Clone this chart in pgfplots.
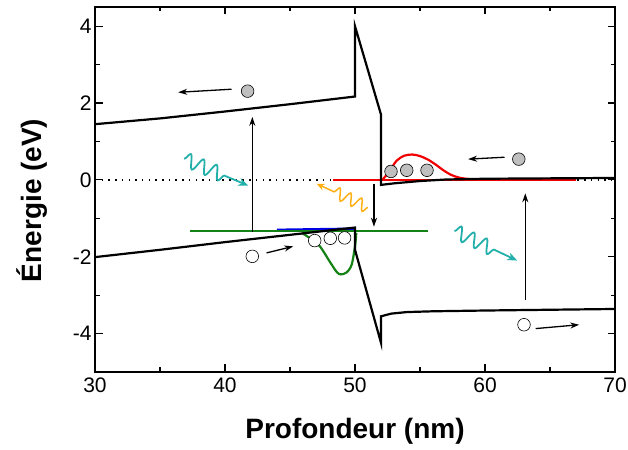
\documentclass[border=0pt]{standalone}
\usepackage{pgfplots}
\pgfplotsset{compat=1.18}
\usepackage{fontspec}
\setmainfont{Liberation Sans}
\usetikzlibrary{arrows.meta,decorations.pathmorphing}
\definecolor{cteal}{RGB}{36,176,170}
\definecolor{corange}{RGB}{255,175,20}
\definecolor{cgreen}{RGB}{20,130,20}
\definecolor{cred}{RGB}{240,0,0}
\definecolor{cblue}{RGB}{0,0,230}
\begin{document}
\begin{tikzpicture}
\begin{axis}[
  name=ax,
  scale only axis,
  width=520pt, height=365pt,
  xmin=30, xmax=70, ymin=-5, ymax=4.5,
  xtick={30,40,50,60,70}, ytick={-4,-2,0,2,4},
  minor x tick num=1, minor y tick num=1,
  tick align=inside, tick pos=both,
  major tick length=7.5pt, minor tick length=4.5pt,
  every tick/.style={line width=1.2pt, black},
  axis line style={line width=1.3pt},
  /pgf/number format/assume math mode=true,
  ticklabel style={font=\fontsize{21}{21}\selectfont},
  xticklabel style={yshift=-2pt},
  xlabel={Profondeur (nm)},
  ylabel={Énergie (eV)},
  label style={font=\fontsize{28}{28}\selectfont\bfseries},
  xlabel style={at={(axis description cs:0.5,-0.1816)}, anchor=base},
  ylabel style={at={(axis description cs:-0.1025,0.47)}, anchor=base},
  clip=false,
]
% Fermi level (dotted)
\addplot[black, line width=1.5pt, dash pattern=on 1.5pt off 5.2pt] coordinates {(30,0) (70,0)};
% red flat line
\addplot[cred, line width=2.2pt] coordinates {(48.3,0) (67,0)};
% blue
\addplot[cblue, line width=2.4pt] coordinates {(44,-1.30) (50,-1.27)};
% green level
\addplot[cgreen, line width=2.2pt] coordinates {(37.3,-1.34) (55.6,-1.34)};
% green well
\addplot[cgreen, line width=2.2pt, smooth] coordinates {(45.9,-1.38) (46.55,-1.52) (47.3,-1.73) (48.1,-2.15) (48.6,-2.40) (48.9,-2.46) (49.35,-2.41) (49.74,-2.21) (50.0,-1.73) (50.1,-1.38)};
% red bump
\addplot[cred, line width=2.2pt, smooth] coordinates {(52.1,0.0) (52.6,0.2) (53.2,0.5) (53.8,0.63) (54.4,0.66) (55.0,0.62) (55.6,0.53) (56.2,0.40) (56.8,0.25) (57.4,0.13) (58.0,0.06) (58.8,0.02) (60,0.0)};
% conduction band
\addplot[black, line width=2.2pt] coordinates {(30,1.45) (35,1.60) (40,1.78) (45,1.97) (50,2.17) (50,4.0) (52,1.70) (52,-0.13) (53,-0.09) (55,-0.03) (57,0.01) (60,0.03) (65,0.04) (70,0.05)};
% valence band
\addplot[black, line width=2.2pt] coordinates {(30,-2.01) (35,-1.82) (40,-1.62) (45,-1.43) (50,-1.24) (50,-1.82) (52,-4.24) (52,-3.55) (52.8,-3.48) (54,-3.44) (56,-3.42) (60,-3.40) (65,-3.38) (70,-3.36)};
% vertical arrows
\addplot[black, line width=1.3pt, -{Stealth[length=9pt,width=6pt]}] coordinates {(42.1,-1.36) (42.1,1.64)};
\addplot[black, line width=1.3pt, -{Stealth[length=9pt,width=6pt]}] coordinates {(51.46,-0.10) (51.46,-1.22)};
\addplot[black, line width=1.3pt, -{Stealth[length=9pt,width=6pt]}] coordinates {(63.1,-3.12) (63.1,-0.35)};
% horizontal arrows
\addplot[black, line width=1.3pt, -{Stealth[length=9pt,width=6pt]}] coordinates {(40.5,2.36) (36.4,2.28)};
\addplot[black, line width=1.3pt, -{Stealth[length=9pt,width=6pt]}] coordinates {(61.5,0.59) (58.7,0.54)};
\addplot[black, line width=1.3pt, -{Stealth[length=9pt,width=6pt]}] coordinates {(43.2,-1.90) (45.25,-1.73)};
\addplot[black, line width=1.3pt, -{Stealth[length=9pt,width=6pt]}] coordinates {(63.9,-3.87) (67.25,-3.77)};
% electrons
\addplot[only marks, mark=*, mark size=6.3pt, mark options={fill=black!25, draw=black, line width=0.6pt}] coordinates {(41.74,2.31) (52.77,0.22) (53.98,0.25) (55.54,0.25) (62.6,0.54)};
% holes
\addplot[only marks, mark=*, mark size=6.3pt, mark options={fill=white, draw=black, line width=0.6pt}] coordinates {(42.1,-1.99) (46.9,-1.58) (48.1,-1.52) (49.2,-1.51) (63.0,-3.77)};
% photons
\draw[cteal, line width=1.8pt, decorate, decoration={snake, amplitude=7pt, segment length=14pt, post length=20pt}, -{Stealth[length=10pt,width=8pt]}] (axis cs:36.85,0.55) -- (axis cs:41.8,-0.15);
\draw[cteal, line width=1.8pt, decorate, decoration={snake, amplitude=7pt, segment length=14pt, post length=20pt}, -{Stealth[length=10pt,width=8pt]}] (axis cs:57.65,-1.33) -- (axis cs:62.48,-2.10);
\draw[corange, line width=1.5pt, decorate, decoration={snake, amplitude=6pt, segment length=12pt, post length=14pt}, -{Stealth[length=8pt,width=7pt]}] (axis cs:51.0,-0.72) -- (axis cs:47.05,-0.10);
\end{axis}
\pgfresetboundingbox
\path[use as bounding box] ([xshift=-95pt,yshift=-78pt]ax.south west) rectangle ([xshift=13pt,yshift=7pt]ax.north east);
\end{tikzpicture}
\end{document}
